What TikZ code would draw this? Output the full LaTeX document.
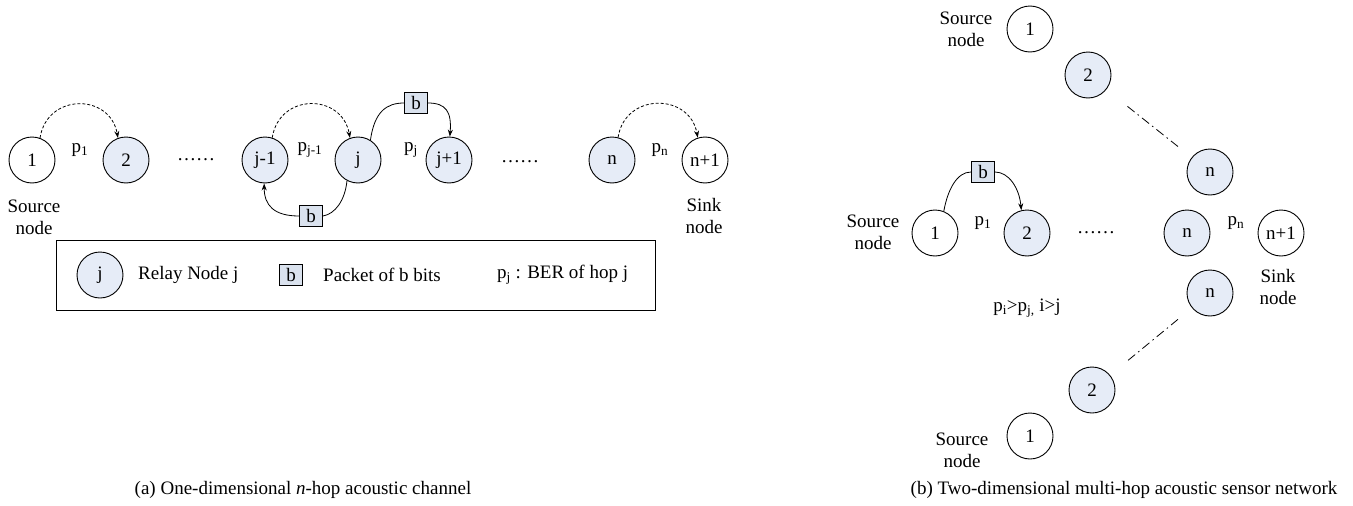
\documentclass[tikz,border=0pt]{standalone}
\usepackage{fontspec}
\setmainfont{Liberation Serif}
\usetikzlibrary{arrows.meta}
\definecolor{nodeblue}{RGB}{230,236,247}
\definecolor{pktfill}{RGB}{218,226,238}
\tikzset{
  wnode/.style={circle,draw,line width=0.9pt,minimum size=46pt,inner sep=0pt,fill=white},
  bnode/.style={wnode,fill=nodeblue},
  pkt/.style={draw,line width=0.9pt,fill=pktfill,minimum width=23pt,minimum height=21pt,inner sep=0pt},
  txt/.style={inner sep=0pt,align=center},
  hopdash/.style={dashed,dash pattern=on 3pt off 2pt,line width=0.8pt,-{Stealth[length=7pt,width=5pt]}},
  hopsolid/.style={line width=0.8pt},
  hoparrow/.style={line width=0.8pt,-{Stealth[length=7pt,width=5pt]}},
  dashdotline/.style={line width=0.8pt,dash pattern=on 9pt off 4pt on 1.5pt off 4pt},
}
\begin{document}
\begin{tikzpicture}[x=1pt,y=-1pt,font=\fontsize{19}{22}\selectfont]
\useasboundingbox (0,0) rectangle (1353,506);
% ---------- left panel ----------
\node[wnode] (L1) at (32,160) {1};
\node[bnode] (L2) at (126,160) {2};
\node[bnode] (Ljm) at (265,160) {j-1};
\node[bnode] (Lj) at (358,160) {j};
\node[bnode] (Ljp) at (449,160) {j+1};
\node[bnode] (Ln) at (612,160) {n};
\node[wnode] (Lnp) at (705,160) {n+1};
\node[txt] (Lsrc) at (34,217) {Source\\node};
\node[txt] (Lsink) at (704,216) {Sink\\node};
\node[txt] (lp1) at (80,150) {p\textsubscript{1}};
\node[txt] (lpjm) at (310,150) {p\textsubscript{j-1}};
\node[txt] (lpj) at (411,150) {p\textsubscript{j}};
\node[txt] (lpn) at (660,150) {p\textsubscript{n}};
\node[txt] (ldots1) at (196,160) {……};
\node[txt] (ldots2) at (520,162) {……};
\node[pkt] (bT) at (416,103) {b};
\node[pkt] (bB) at (311,216) {b};
\draw[hopdash] (L1.70) .. controls +(7,-45) and +(-8,-45) .. (L2.110);
\draw[hopdash] (Ljm.72) .. controls +(7,-45) and +(-8,-45) .. (Lj.110);
\draw[hopdash] (Ln.75) .. controls +(7,-45) and +(-8,-45) .. (Lnp.108);
\draw[hopsolid] (Lj.58) .. controls +(4,-28) and +(-18,0) .. (bT.west);
\draw[hoparrow] (bT.east) .. controls +(18,0) and +(2,-25) .. (Ljp.88);
\draw[hopsolid] (Lj.-118) .. controls +(-2,20) and +(12,-2) .. (bB.east);
\draw[hoparrow] (bB.west) .. controls +(-25,0) and +(0,22) .. (Ljm.-92);
% legend
\node[draw,line width=0.9pt,minimum width=599pt,minimum height=70pt,inner sep=0pt] (legend) at (355.5,275) {};
\node[bnode] (legj) at (100,275) {j};
\node[txt,anchor=west] (legjt) at (138,275) {Relay Node j};
\node[pkt] (legb) at (291,275) {b};
\node[txt,anchor=west] (legbt) at (323,275) {Packet of b bits};
\node[txt,anchor=west] (legpt) at (497,275) {p\textsubscript{j} : BER of hop j};
% caption a
\node[txt] (capa) at (303,490) {(a) One-dimensional \textit{n}-hop acoustic channel};
% ---------- right panel ----------
\node[wnode] (R1t) at (1030,29) {1};
\node[txt] (Rsrct) at (966,29) {Source\\node};
\node[bnode] (R2t) at (1088,75) {2};
\node[bnode] (Rnt) at (1210,172) {n};
\draw[dashdotline,shorten <=27pt,shorten >=17pt] (R2t) -- (Rnt);
\node[wnode] (RM1) at (935,233) {1};
\node[txt] (Rsrcm) at (873,232) {Source\\node};
\node[pkt] (bR) at (983,172) {b};
\node[bnode] (RM2) at (1027,233) {2};
\node[txt] (rp1) at (983,223) {p\textsubscript{1}};
\node[txt] (rdots) at (1096,233) {……};
\node[bnode] (RMn) at (1187,233) {n};
\node[txt] (rpn) at (1236,223) {p\textsubscript{n}};
\node[wnode] (RMnp) at (1281,233) {n+1};
\node[txt] (Rsink) at (1278,287) {Sink\\node};
\draw[hopsolid] (RM1.68) .. controls +(4,-22) and +(-14,0) .. (bR.west);
\draw[hoparrow] (bR.east) .. controls +(14,0) and +(-2,-22) .. (RM2.104);
\node[bnode] (Rnb) at (1210,293) {n};
\node[txt] (rcomp) at (1027,308) {p\textsubscript{i}>p\textsubscript{j,} i>j};
\node[bnode] (R2b) at (1092,390) {2};
\node[wnode] (R1b) at (1030,436) {1};
\node[txt] (Rsrcb) at (962,450) {Source\\node};
\draw[dashdotline,shorten <=18pt,shorten >=21pt] (Rnb) -- (R2b);
% caption b
\node[txt] (capb) at (1124,490) {(b) Two-dimensional multi-hop acoustic sensor network};
\end{tikzpicture}
\end{document}
